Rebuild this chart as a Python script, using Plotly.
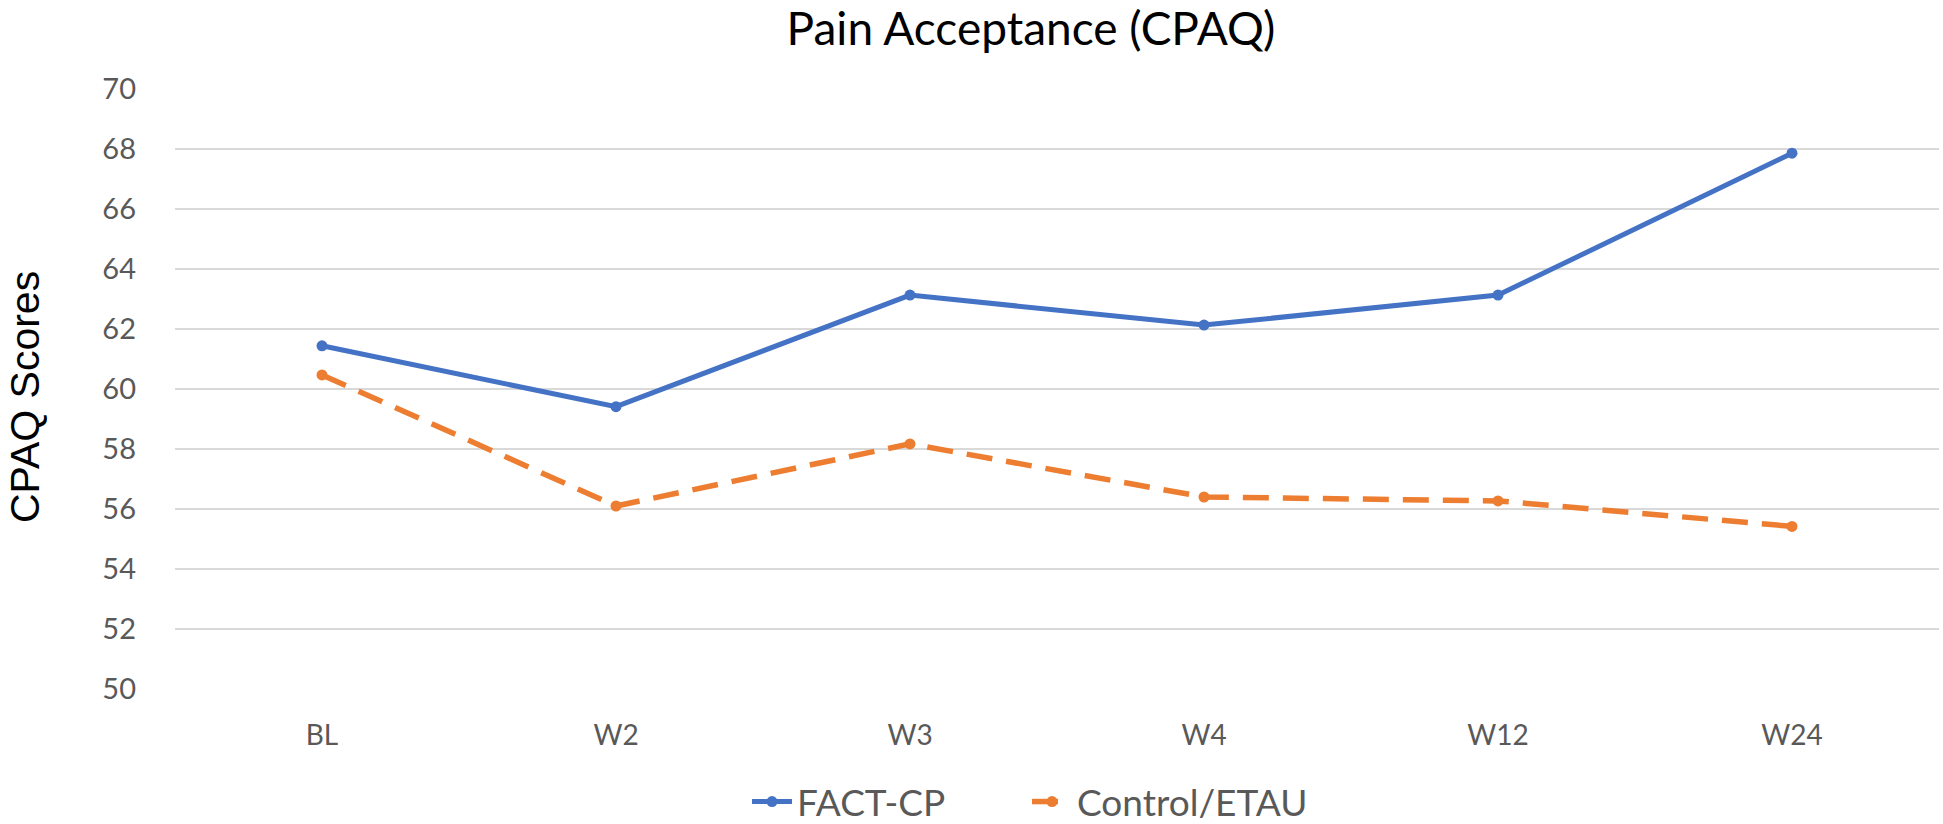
import plotly.graph_objects as go

categories = ["BL", "W2", "W3", "W4", "W12", "W24"]
fact_cp = [61.44, 59.41, 63.13, 62.13, 63.13, 67.86]
control_etau = [60.47, 56.10, 58.17, 56.40, 56.27, 55.42]
y_ticks = [50, 52, 54, 56, 58, 60, 62, 64, 66, 68, 70]

W, H = 1943, 824
L, R, T, B = 175, 4, 89, 135
PW, PH = W - L - R, H - T - B

fig = go.Figure()
fig.add_trace(go.Scatter(
    x=categories, y=fact_cp, name="FACT-CP", mode="lines+markers",
    line=dict(color="#4472C4", width=5),
    marker=dict(color="#4472C4", size=11, symbol="circle"),
    legend="legend",
))
fig.add_trace(go.Scatter(
    x=categories, y=control_etau, name="Control/ETAU", mode="lines+markers",
    line=dict(color="#ED7D31", width=5.5, dash="26px,14px"),
    marker=dict(color="#ED7D31", size=11, symbol="circle"),
    legend="legend2",
))

legend_common = dict(orientation="h", xanchor="left", y=(H - B - 802) / PH, yanchor="middle",
                     font=dict(family="Lato", size=37, color="#595959"),
                     itemwidth=40, bgcolor="rgba(0,0,0,0)")

fig.update_layout(
    width=W, height=H,
    margin=dict(l=L, r=R, t=T, b=B, pad=0, autoexpand=False),
    paper_bgcolor="white", plot_bgcolor="white",
    title=dict(text="Pain Acceptance (CPAQ)", font=dict(family="Lato", size=46, color="black"),
               x=(1031 - L) / PW, xref="paper", xanchor="center",
               y=1 - 29 / H, yref="container", yanchor="middle"),
    legend=dict(x=(747 - L) / PW, **legend_common),
    legend2=dict(x=(1027 - L) / PW, **legend_common),
    showlegend=True,
)
fig.update_xaxes(
    type="category", categoryorder="array", categoryarray=categories,
    range=[-0.5, len(categories) - 0.5],
    showgrid=False, zeroline=False, showline=False, ticks="",
    tickfont=dict(family="Lato", size=28, color="#595959"),
    ticklabelstandoff=27,
)
fig.update_yaxes(
    range=[50, 70], tickvals=y_ticks, ticktext=[str(v) for v in y_ticks],
    showgrid=True, gridcolor="#D9D9D9", gridwidth=1.5,
    zeroline=False, showline=False, ticks="",
    tickfont=dict(family="Lato", size=29, color="#595959"),
    ticklabelstandoff=38,
)
fig.add_annotation(
    text="CPAQ Scores", textangle=-90, showarrow=False,
    xref="paper", yref="paper", x=(25 - L) / PW, y=(H - B - 397) / PH,
    xanchor="center", yanchor="middle",
    font=dict(family="Liberation Sans", size=41, color="black"),
)

fig.write_html("out.html", config={"displayModeBar": False},
               post_script="document.body.style.margin='0';")
